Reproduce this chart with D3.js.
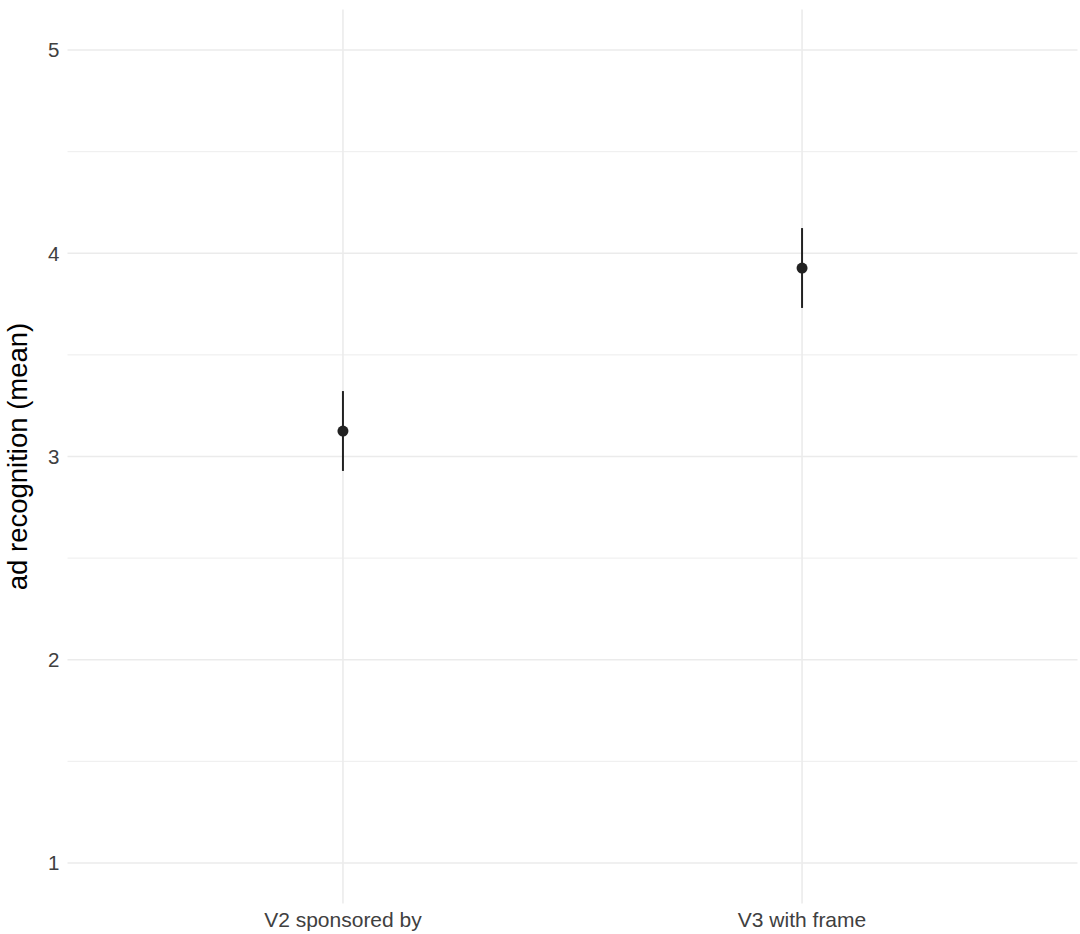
<!DOCTYPE html>
<html>
<head>
<meta charset="utf-8">
<script src="https://cdn.jsdelivr.net/npm/d3@7"></script>
<style>
  html, body { margin: 0; padding: 0; background: #fff; }
  svg { display: block; }
  text { font-family: "Liberation Sans", Arial, sans-serif; }
</style>
</head>
<body>
<svg id="chart" width="1080" height="934"></svg>
<script>
const categories = ["V2 sponsored by", "V3 with frame"];
const means = [3.125, 3.927];
const lower = [2.929, 3.731];
const upper = [3.322, 4.124];
const yTicks = [1, 2, 3, 4, 5];
const yMinor = [1.5, 2.5, 3.5, 4.5];

const width = 1080, height = 934;
const margin = { top: 9.4, right: 2.5, bottom: 30.4, left: 67.5 };
const innerW = width - margin.left - margin.right;
const innerH = height - margin.top - margin.bottom;

const svg = d3.select("#chart");
const g = svg.append("g").attr("transform", `translate(${margin.left},${margin.top})`);

// discrete axis with ggplot-style 0.6 expansion
const x = d3.scaleLinear().domain([0.4, 2.6]).range([0, innerW]);
const xPos = i => x(i + 1);
const y = d3.scaleLinear().domain([0.8, 5.2]).range([innerH, 0]);

// grid
g.selectAll(".minor").data(yMinor).join("line")
  .attr("x1", 0).attr("x2", innerW)
  .attr("y1", d => y(d)).attr("y2", d => y(d))
  .attr("stroke", "#ebebeb").attr("stroke-width", 0.9);
g.selectAll(".major").data(yTicks).join("line")
  .attr("x1", 0).attr("x2", innerW)
  .attr("y1", d => y(d)).attr("y2", d => y(d))
  .attr("stroke", "#ebebeb").attr("stroke-width", 1.6);
g.selectAll(".vgrid").data(categories).join("line")
  .attr("x1", (d, i) => xPos(i)).attr("x2", (d, i) => xPos(i))
  .attr("y1", 0).attr("y2", innerH)
  .attr("stroke", "#ebebeb").attr("stroke-width", 1.6);

// y tick labels
g.selectAll(".ylab").data(yTicks).join("text")
  .attr("x", -8).attr("y", d => y(d))
  .attr("dy", "0.36em")
  .attr("text-anchor", "end")
  .attr("font-size", 20.5)
  .attr("fill", "#404040")
  .text(d => d);

// x tick labels
g.selectAll(".xlab").data(categories).join("text")
  .attr("x", (d, i) => xPos(i)).attr("y", innerH + 23)
  .attr("text-anchor", "middle")
  .attr("font-size", 21)
  .attr("fill", "#404040")
  .text(d => d);

// y title
svg.append("text")
  .attr("transform", `translate(${27},${margin.top + innerH / 2}) rotate(-90)`)
  .attr("text-anchor", "middle")
  .attr("font-size", 27.5)
  .attr("fill", "#000")
  .text("ad recognition (mean)");

// error bars and points
g.selectAll(".err").data(categories).join("line")
  .attr("x1", (d, i) => xPos(i)).attr("x2", (d, i) => xPos(i))
  .attr("y1", (d, i) => y(lower[i])).attr("y2", (d, i) => y(upper[i]))
  .attr("stroke", "#222").attr("stroke-width", 2);
g.selectAll(".pt").data(categories).join("circle")
  .attr("cx", (d, i) => xPos(i)).attr("cy", (d, i) => y(means[i]))
  .attr("r", 5.5)
  .attr("fill", "#222");
</script>
</body>
</html>
